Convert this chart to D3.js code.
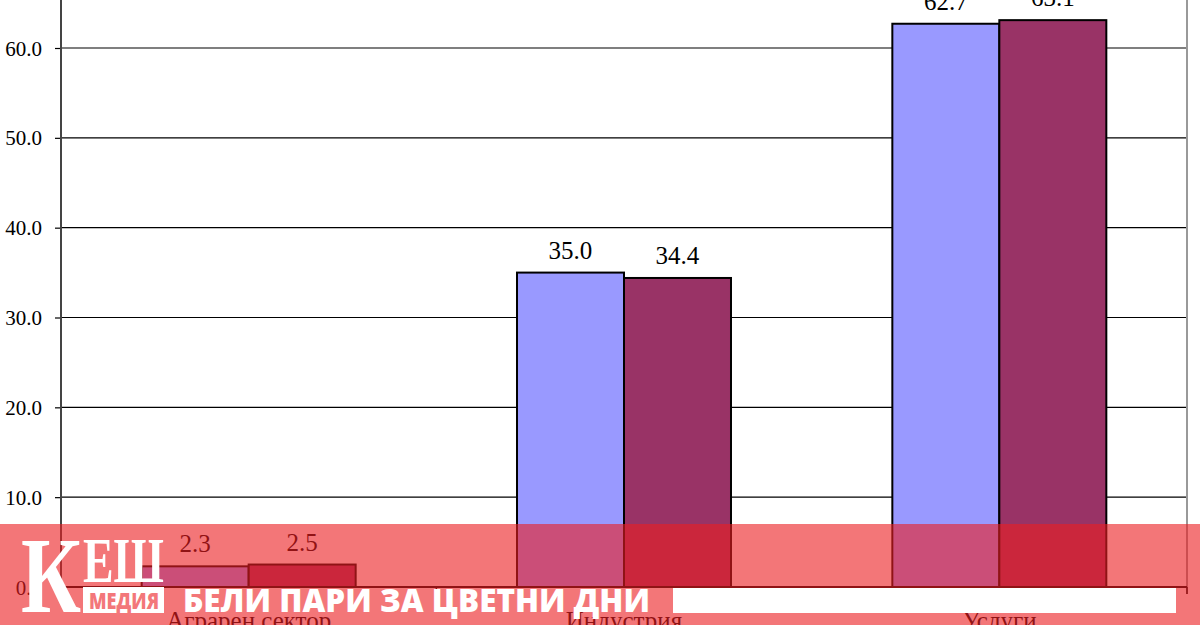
<!DOCTYPE html>
<html>
<head>
<meta charset="utf-8">
<script src="https://cdn.jsdelivr.net/npm/d3@7"></script>
<style>
  html, body { margin: 0; padding: 0; background: #fff; }
  svg { display: block; }
</style>
</head>
<body>
<svg id="chart" width="1200" height="625"></svg>
<script>
// ---- data ----
const categories = ["Аграрен сектор", "Индустрия", "Услуги"];
const seriesNames = ["s1", "s2"];
const seriesA = [2.3, 35.0, 62.7];
const seriesB = [2.5, 34.4, 63.1];
const yTicks = [0, 10, 20, 30, 40, 50, 60];
const yTickLabels = ["0.0", "10.0", "20.0", "30.0", "40.0", "50.0", "60.0"];
const colors = ["#9999FF", "#993366"];

const svg = d3.select("#chart");
const left = 61, right = 1187, bottom = 587;

const y = d3.scaleLinear().domain([0, 60]).range([bottom, 48]);
const x0 = d3.scaleBand().domain(categories).range([left, right]).padding(0);
const x1 = d3.scaleBand().domain(seriesNames).range([0, x0.bandwidth()]).paddingInner(0).paddingOuter(0.754);

const serif = "'Liberation Serif', 'Times New Roman', serif";

// gridlines
svg.append("g").selectAll("line").data(yTicks.filter(d => d > 0)).join("line")
  .attr("x1", left).attr("x2", right)
  .attr("y1", d => y(d)).attr("y2", d => y(d))
  .attr("stroke", "#000").attr("stroke-width", 1.2);

// right border
svg.append("line").attr("x1", right).attr("x2", right).attr("y1", 0).attr("y2", bottom + 7)
  .attr("stroke", "#999").attr("stroke-width", 2);

// y axis
const yAxis = d3.axisLeft(y).tickValues(yTicks).tickSize(6).tickFormat((d, i) => yTickLabels[i]);
const gy = svg.append("g").attr("transform", `translate(${left},0)`).call(yAxis);
gy.select(".domain").remove();
gy.selectAll(".tick line").attr("stroke", "#000").attr("stroke-width", 1.2);
gy.selectAll(".tick text").attr("font-family", serif).attr("font-size", 21).attr("fill", "#000")
  .attr("x", -19).attr("dy", "0.34em");
svg.append("line").attr("x1", left).attr("x2", left).attr("y1", 0).attr("y2", bottom + 1)
  .attr("stroke", "#444").attr("stroke-width", 2);

// bars
const data = categories.map((c, i) => ({ c, vals: [seriesA[i], seriesB[i]] }));
const groups = svg.append("g").selectAll("g").data(data).join("g")
  .attr("transform", d => `translate(${x0(d.c)},0)`);
groups.selectAll("rect").data(d => d.vals.map((v, j) => ({ v, s: seriesNames[j], j }))).join("rect")
  .attr("x", d => x1(d.s)).attr("width", x1.bandwidth())
  .attr("y", d => y(d.v)).attr("height", d => y(0) - y(d.v))
  .attr("fill", d => colors[d.j]).attr("stroke", "#000").attr("stroke-width", 2);
groups.selectAll("text").data(d => d.vals.map((v, j) => ({ v, s: seriesNames[j] }))).join("text")
  .attr("x", d => x1(d.s) + x1.bandwidth() / 2).attr("y", d => y(d.v) - 14)
  .attr("text-anchor", "middle").attr("font-family", serif).attr("font-size", 25).attr("fill", "#000")
  .text(d => d3.format(".1f")(d.v));

// x axis
svg.append("line").attr("x1", left).attr("x2", right).attr("y1", bottom).attr("y2", bottom)
  .attr("stroke", "#000").attr("stroke-width", 2);
const bounds = [left, ...categories.map(c => x0(c) + x0.bandwidth())];
svg.append("g").selectAll("line").data(bounds).join("line")
  .attr("x1", d => d).attr("x2", d => d).attr("y1", bottom).attr("y2", bottom + 7)
  .attr("stroke", "#000").attr("stroke-width", 1.5);
svg.append("g").selectAll("text").data(categories).join("text")
  .attr("x", d => x0(d) + x0.bandwidth() / 2).attr("y", 629)
  .attr("text-anchor", "middle").attr("font-family", serif).attr("font-size", 25).attr("fill", "#000")
  .text(d => d);

// ---- banner overlay ----
svg.append("rect").attr("x", 0).attr("y", 524).attr("width", 1200).attr("height", 101)
  .attr("fill", "rgb(235,31,34)").attr("fill-opacity", 0.61);
svg.append("rect").attr("x", 673).attr("y", 588).attr("width", 503).attr("height", 25).attr("fill", "#fff");

// logo
svg.append("rect").attr("x", 83).attr("y", 587).attr("width", 81).attr("height", 26).attr("fill", "#fff");
svg.append("text").attr("x", 89).attr("y", 609).attr("font-family", "'Open Sans', sans-serif")
  .attr("font-weight", 800).attr("font-size", 22).attr("fill", "#F3777A")
  .attr("textLength", 70).attr("lengthAdjust", "spacingAndGlyphs").text("МЕДИЯ");
svg.append("text").attr("x", 21).attr("y", 612).attr("font-family", serif).attr("font-weight", 700)
  .attr("font-size", 108).attr("fill", "#fff")
  .attr("textLength", 60).attr("lengthAdjust", "spacingAndGlyphs").text("К");
svg.append("text").attr("x", 83).attr("y", 582).attr("font-family", serif).attr("font-weight", 700)
  .attr("font-size", 64).attr("fill", "#fff")
  .attr("textLength", 81).attr("lengthAdjust", "spacingAndGlyphs").text("ЕШ");

// slogan
svg.append("text").attr("x", 183).attr("y", 612).attr("font-family", "'Open Sans', sans-serif")
  .attr("font-weight", 800).attr("font-size", 31).attr("fill", "#fff")
  .attr("textLength", 467).attr("lengthAdjust", "spacingAndGlyphs").text("БЕЛИ ПАРИ ЗА ЦВЕТНИ ДНИ");
</script>
</body>
</html>
